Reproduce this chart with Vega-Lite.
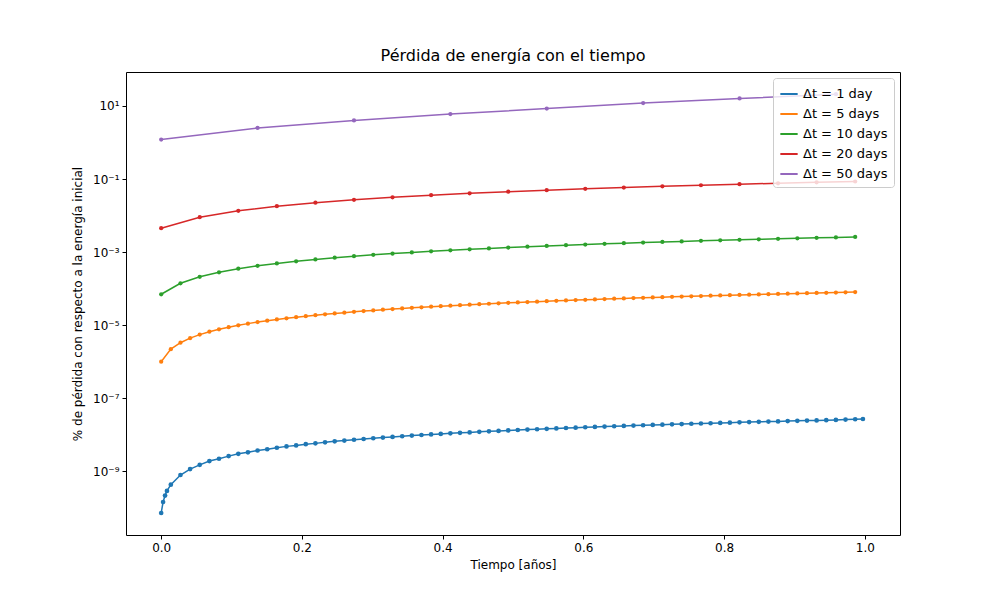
{
"$schema":"https://vega.github.io/schema/vega-lite/v6.json",
"width":774,"height":463,
"autosize":{"type":"none"},
"padding":{"left":126,"top":72,"right":100,"bottom":65},
"background":"white",
"title":{"text":"Pérdida de energía con el tiempo","fontSize":16,"fontWeight":"normal","font":"DejaVu Sans","color":"black","offset":8},
"config":{"font":"DejaVu Sans","view":{"stroke":"black","strokeWidth":1},
"axis":{"grid":false,"domain":false,"tickColor":"black","labelColor":"black","titleColor":"black","labelFontSize":12,"titleFontSize":12,"titleFontWeight":"normal","tickSize":4,"labelPadding":3}},
"datasets":{
"d1":[{"t":0,"v":7.2e-11},{"t":0.0027,"v":1.44e-10},{"t":0.0055,"v":2.16e-10},{"t":0.0082,"v":2.9e-10},{"t":0.0137,"v":4.3e-10},{"t":0.0274,"v":7.9e-10},{"t":0.0411,"v":1.15e-9},{"t":0.0548,"v":1.5e-9},{"t":0.0685,"v":1.9e-9},{"t":0.0822,"v":2.2e-9},{"t":0.0959,"v":2.6e-9},{"t":0.1096,"v":3.0e-9},{"t":0.1233,"v":3.3e-9},{"t":0.137,"v":3.7e-9},{"t":0.1507,"v":4.0e-9},{"t":0.1644,"v":4.4e-9},{"t":0.1781,"v":4.8e-9},{"t":0.1918,"v":5.1e-9},{"t":0.2055,"v":5.5e-9},{"t":0.2192,"v":5.8e-9},{"t":0.2329,"v":6.2e-9},{"t":0.2466,"v":6.6e-9},{"t":0.2603,"v":6.9e-9},{"t":0.274,"v":7.3e-9},{"t":0.2877,"v":7.65e-9},{"t":0.3014,"v":8.0e-9},{"t":0.3151,"v":8.35e-9},{"t":0.3288,"v":8.7e-9},{"t":0.3425,"v":9.1e-9},{"t":0.3562,"v":9.5e-9},{"t":0.3699,"v":9.85e-9},{"t":0.3836,"v":1.02e-8},{"t":0.3973,"v":1.055e-8},{"t":0.411,"v":1.09e-8},{"t":0.4247,"v":1.125e-8},{"t":0.4384,"v":1.16e-8},{"t":0.4521,"v":1.2e-8},{"t":0.4658,"v":1.24e-8},{"t":0.4795,"v":1.275e-8},{"t":0.4932,"v":1.31e-8},{"t":0.5068,"v":1.345e-8},{"t":0.5205,"v":1.38e-8},{"t":0.5342,"v":1.415e-8},{"t":0.5479,"v":1.45e-8},{"t":0.5616,"v":1.49e-8},{"t":0.5753,"v":1.53e-8},{"t":0.589,"v":1.565e-8},{"t":0.6027,"v":1.6e-8},{"t":0.6164,"v":1.635e-8},{"t":0.6301,"v":1.67e-8},{"t":0.6438,"v":1.705e-8},{"t":0.6575,"v":1.74e-8},{"t":0.6712,"v":1.78e-8},{"t":0.6849,"v":1.82e-8},{"t":0.6986,"v":1.855e-8},{"t":0.7123,"v":1.89e-8},{"t":0.726,"v":1.925e-8},{"t":0.7397,"v":1.96e-8},{"t":0.7534,"v":1.995e-8},{"t":0.7671,"v":2.03e-8},{"t":0.7808,"v":2.065e-8},{"t":0.7945,"v":2.1e-8},{"t":0.8082,"v":2.14e-8},{"t":0.8219,"v":2.18e-8},{"t":0.8356,"v":2.215e-8},{"t":0.8493,"v":2.25e-8},{"t":0.863,"v":2.285e-8},{"t":0.8767,"v":2.32e-8},{"t":0.8904,"v":2.36e-8},{"t":0.9041,"v":2.4e-8},{"t":0.9178,"v":2.435e-8},{"t":0.9315,"v":2.47e-8},{"t":0.9452,"v":2.505e-8},{"t":0.9589,"v":2.54e-8},{"t":0.9726,"v":2.6e-8},{"t":0.9863,"v":2.65e-8},{"t":0.9973,"v":2.7e-8}],
"d5":[{"t":0,"v":1.0e-6},{"t":0.0137,"v":2.2e-6},{"t":0.0274,"v":3.3e-6},{"t":0.0411,"v":4.4e-6},{"t":0.0548,"v":5.5e-6},{"t":0.0685,"v":6.6e-6},{"t":0.0822,"v":7.7e-6},{"t":0.0959,"v":8.8e-6},{"t":0.1096,"v":9.9e-6},{"t":0.1233,"v":1.1e-5},{"t":0.137,"v":1.21e-5},{"t":0.1507,"v":1.32e-5},{"t":0.1644,"v":1.43e-5},{"t":0.1781,"v":1.54e-5},{"t":0.1918,"v":1.65e-5},{"t":0.2055,"v":1.76e-5},{"t":0.2192,"v":1.87e-5},{"t":0.2329,"v":1.98e-5},{"t":0.2466,"v":2.09e-5},{"t":0.2603,"v":2.2e-5},{"t":0.274,"v":2.31e-5},{"t":0.2877,"v":2.42e-5},{"t":0.3014,"v":2.53e-5},{"t":0.3151,"v":2.64e-5},{"t":0.3288,"v":2.75e-5},{"t":0.3425,"v":2.86e-5},{"t":0.3562,"v":2.97e-5},{"t":0.3699,"v":3.08e-5},{"t":0.3836,"v":3.19e-5},{"t":0.3973,"v":3.3e-5},{"t":0.411,"v":3.41e-5},{"t":0.4247,"v":3.52e-5},{"t":0.4384,"v":3.63e-5},{"t":0.4521,"v":3.74e-5},{"t":0.4658,"v":3.85e-5},{"t":0.4795,"v":3.96e-5},{"t":0.4932,"v":4.07e-5},{"t":0.5068,"v":4.18e-5},{"t":0.5205,"v":4.29e-5},{"t":0.5342,"v":4.4e-5},{"t":0.5479,"v":4.51e-5},{"t":0.5616,"v":4.62e-5},{"t":0.5753,"v":4.73e-5},{"t":0.589,"v":4.84e-5},{"t":0.6027,"v":4.95e-5},{"t":0.6164,"v":5.06e-5},{"t":0.6301,"v":5.17e-5},{"t":0.6438,"v":5.28e-5},{"t":0.6575,"v":5.39e-5},{"t":0.6712,"v":5.5e-5},{"t":0.6849,"v":5.61e-5},{"t":0.6986,"v":5.72e-5},{"t":0.7123,"v":5.83e-5},{"t":0.726,"v":5.94e-5},{"t":0.7397,"v":6.05e-5},{"t":0.7534,"v":6.16e-5},{"t":0.7671,"v":6.27e-5},{"t":0.7808,"v":6.38e-5},{"t":0.7945,"v":6.49e-5},{"t":0.8082,"v":6.6e-5},{"t":0.8219,"v":6.71e-5},{"t":0.8356,"v":6.82e-5},{"t":0.8493,"v":6.93e-5},{"t":0.863,"v":7.04e-5},{"t":0.8767,"v":7.15e-5},{"t":0.8904,"v":7.26e-5},{"t":0.9041,"v":7.37e-5},{"t":0.9178,"v":7.48e-5},{"t":0.9315,"v":7.59e-5},{"t":0.9452,"v":7.7e-5},{"t":0.9589,"v":7.81e-5},{"t":0.9726,"v":7.92e-5},{"t":0.9863,"v":8.03e-5}],
"d10":[{"t":0,"v":7e-5},{"t":0.0274,"v":1.4e-4},{"t":0.0548,"v":2.1e-4},{"t":0.0822,"v":2.8e-4},{"t":0.1096,"v":3.5e-4},{"t":0.137,"v":4.2e-4},{"t":0.1644,"v":4.9e-4},{"t":0.1918,"v":5.6e-4},{"t":0.2192,"v":6.3e-4},{"t":0.2466,"v":7e-4},{"t":0.274,"v":7.7e-4},{"t":0.3014,"v":8.4e-4},{"t":0.3288,"v":9.1e-4},{"t":0.3562,"v":9.8e-4},{"t":0.3836,"v":1.05e-3},{"t":0.411,"v":1.12e-3},{"t":0.4384,"v":1.19e-3},{"t":0.4658,"v":1.26e-3},{"t":0.4932,"v":1.33e-3},{"t":0.5205,"v":1.4e-3},{"t":0.5479,"v":1.47e-3},{"t":0.5753,"v":1.54e-3},{"t":0.6027,"v":1.61e-3},{"t":0.6301,"v":1.68e-3},{"t":0.6575,"v":1.75e-3},{"t":0.6849,"v":1.82e-3},{"t":0.7123,"v":1.89e-3},{"t":0.7397,"v":1.96e-3},{"t":0.7671,"v":2.03e-3},{"t":0.7945,"v":2.1e-3},{"t":0.8219,"v":2.17e-3},{"t":0.8493,"v":2.24e-3},{"t":0.8767,"v":2.31e-3},{"t":0.9041,"v":2.38e-3},{"t":0.9315,"v":2.45e-3},{"t":0.9589,"v":2.52e-3},{"t":0.9863,"v":2.59e-3}],
"d20":[{"t":0,"v":4.5e-3},{"t":0.0548,"v":9e-3},{"t":0.1096,"v":1.35e-2},{"t":0.1644,"v":1.8e-2},{"t":0.2192,"v":2.25e-2},{"t":0.274,"v":2.7e-2},{"t":0.3288,"v":3.15e-2},{"t":0.3836,"v":3.6e-2},{"t":0.4384,"v":4.05e-2},{"t":0.4932,"v":4.5e-2},{"t":0.5479,"v":4.95e-2},{"t":0.6027,"v":5.4e-2},{"t":0.6575,"v":5.85e-2},{"t":0.7123,"v":6.3e-2},{"t":0.7671,"v":6.75e-2},{"t":0.8219,"v":7.2e-2},{"t":0.8767,"v":7.65e-2},{"t":0.9315,"v":8.1e-2},{"t":0.9863,"v":8.55e-2}],
"d50":[{"t":0,"v":1.2},{"t":0.137,"v":2.5},{"t":0.274,"v":4.0},{"t":0.411,"v":6.0},{"t":0.548,"v":8.5},{"t":0.685,"v":12},{"t":0.822,"v":16},{"t":0.959,"v":21}]
},
"data":{"name":"d1"},
"layer":[
{"data":{"name":"d1"},"transform":[{"calculate":"'Δt = 1 day'","as":"s"}],"mark":{"type":"line","point":{"filled":true,"size":22},"strokeWidth":1.5,"clip":true},"encoding":{}},
{"data":{"name":"d5"},"transform":[{"calculate":"'Δt = 5 days'","as":"s"}],"mark":{"type":"line","point":{"filled":true,"size":18},"strokeWidth":1.5,"clip":true},"encoding":{}},
{"data":{"name":"d10"},"transform":[{"calculate":"'Δt = 10 days'","as":"s"}],"mark":{"type":"line","point":{"filled":true,"size":18},"strokeWidth":1.5,"clip":true},"encoding":{}},
{"data":{"name":"d20"},"transform":[{"calculate":"'Δt = 20 days'","as":"s"}],"mark":{"type":"line","point":{"filled":true,"size":18},"strokeWidth":1.5,"clip":true},"encoding":{}},
{"data":{"name":"d50"},"transform":[{"calculate":"'Δt = 50 days'","as":"s"}],"mark":{"type":"line","point":{"filled":true,"size":18},"strokeWidth":1.5,"clip":true},"encoding":{}}
],
"encoding":{
"x":{"field":"t","type":"quantitative","title":"Tiempo [años]","scale":{"domain":[-0.05,1.05],"nice":false,"zero":false},"axis":{"values":[0,0.2,0.4,0.6,0.8,1.0],"format":".1f","titlePadding":6}},
"y":{"field":"v","type":"quantitative","title":"% de pérdida con respecto a la energía inicial","scale":{"type":"log","domain":[1.8e-11,85],"nice":false},"axis":{"values":[1e-9,1e-7,1e-5,1e-3,1e-1,10],"titlePadding":8,"labelExpr":"datum.value<1e-8?'10⁻⁹':datum.value<1e-6?'10⁻⁷':datum.value<1e-4?'10⁻⁵':datum.value<1e-2?'10⁻³':datum.value<1?'10⁻¹':'10¹'"}},
"color":{"field":"s","type":"nominal","scale":{"domain":["Δt = 1 day","Δt = 5 days","Δt = 10 days","Δt = 20 days","Δt = 50 days"],"range":["#1f77b4","#ff7f0e","#2ca02c","#d62728","#9467bd"]},
"legend":{"title":null,"orient":"top-right","offset":6,"fillColor":"rgba(255,255,255,0.8)","strokeColor":"#cccccc","padding":6,"cornerRadius":3,"labelFontSize":13,"labelColor":"black","symbolType":"stroke","symbolStrokeWidth":2,"symbolSize":300,"rowPadding":3}}
}
}
